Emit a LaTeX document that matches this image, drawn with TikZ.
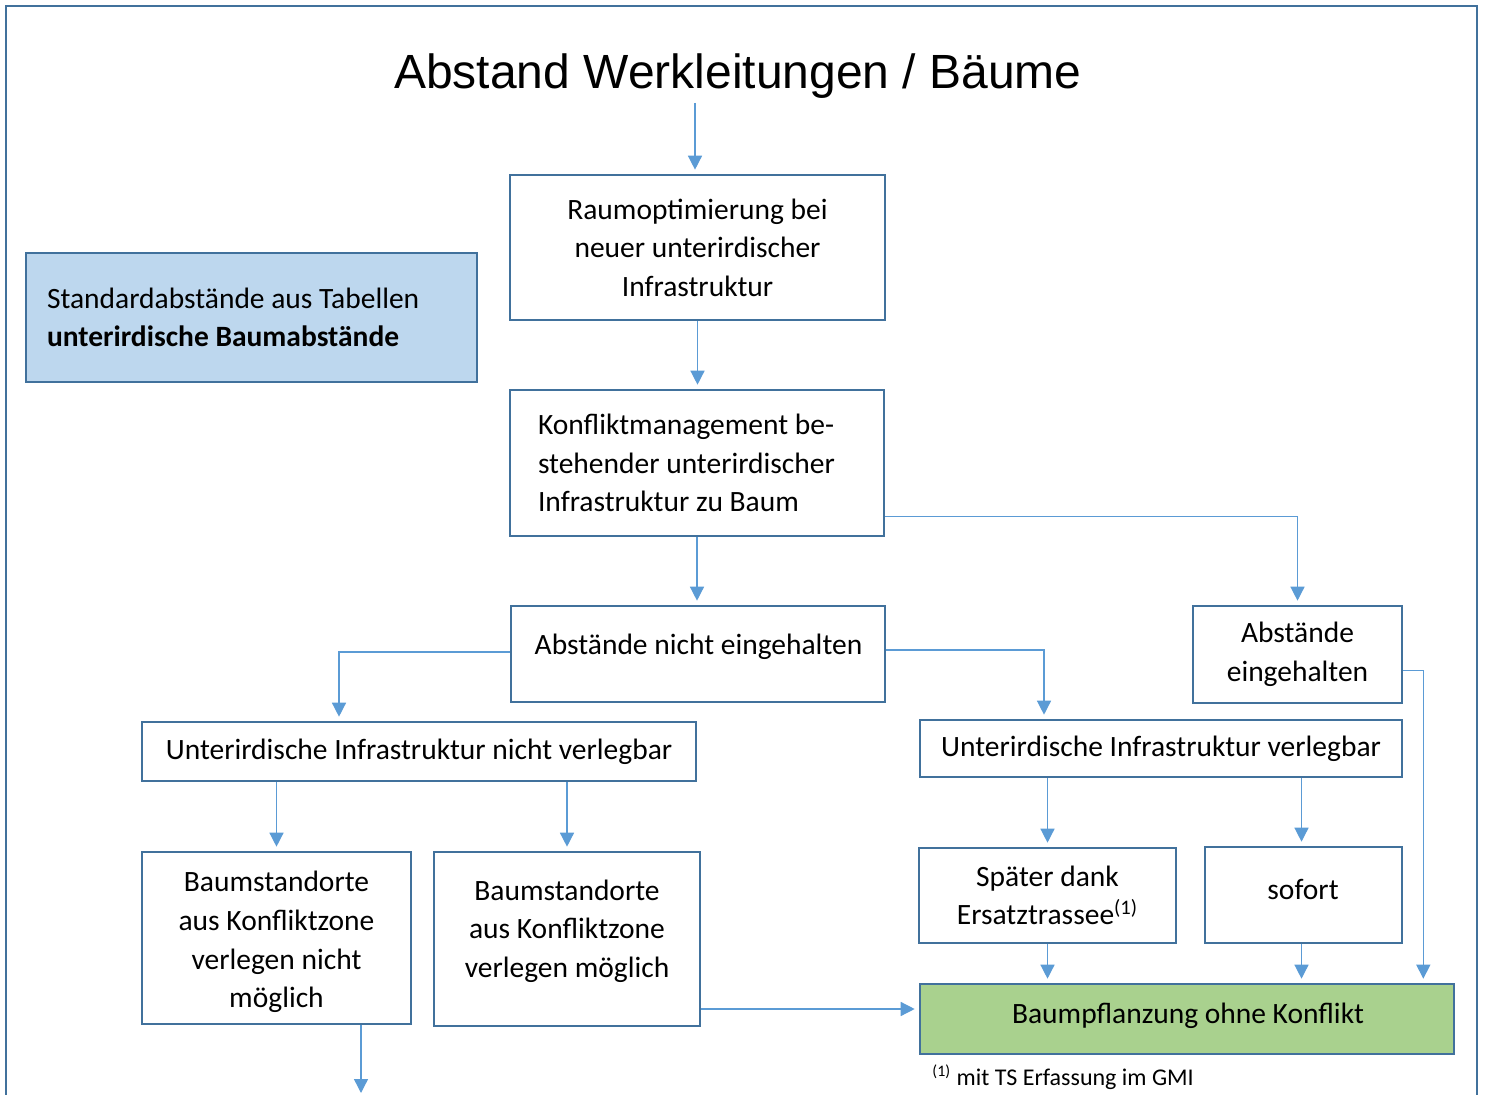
\documentclass[tikz,border=0pt]{standalone}
\usepackage{fontspec}
\setmainfont{Carlito}
\newfontfamily\titlefont{Liberation Sans}
\usetikzlibrary{arrows.meta,calc}
\definecolor{boxline}{HTML}{41719C}
\definecolor{arrowc}{HTML}{5B9BD5}
\definecolor{bluefill}{HTML}{BDD7EE}
\definecolor{greenfill}{HTML}{A9D18E}
\tikzset{
  box/.style={draw=boxline, line width=1.3pt, rectangle, inner ysep=2pt, inner xsep=3pt,
    font=\fontsize{14.75}{19.3}\selectfont, align=center},
  txt/.style={inner sep=0pt, font=\fontsize{14.75}{19.3}\selectfont, align=center},
  arr/.style={draw=arrowc, line width=0.7pt, -{Triangle[length=7pt,width=7pt]}, shorten >=2pt},
  frame/.style={draw=boxline, line width=1.2pt},
}
\begin{document}
\begin{tikzpicture}[x=0.5pt,y=-0.5pt]
\useasboundingbox (0,0) rectangle (1487,1095);
\draw[frame] (6,1110) -- (6,6) -- (1477,6) -- (1477,1110);

\node[inner sep=2pt, font=\titlefont\fontsize{24}{28}\selectfont] (title) at (738,76) {Abstand Werkleitungen / Bäume};

\node[box, minimum width=187.5pt, minimum height=72.5pt] (raum) at (697.5,247.5)
  {Raumoptimierung bei\\neuer unterirdischer\\Infrastruktur};

\node[box, fill=bluefill, minimum height=64.5pt, inner xsep=10.5pt, text width=204.5pt, align=flush left] (std) at (251.5,317.5)
  {Standardabstände aus Tabellen\\\textbf{unterirdische Baumabstände}};

\node[box, minimum height=73pt, inner xsep=14pt, text width=159pt, align=flush left] (konf) at (697,463)
  {Konfliktmanagement be-\\stehender unterirdischer\\Infrastruktur zu Baum};

\node[box, minimum width=187pt, minimum height=48pt] (ani) at (698,654) {};
\node[txt] (anitxt) at (698.5,647) {Abstände nicht eingehalten};

\node[box, minimum width=104.5pt, minimum height=48.5pt] (ae) at (1297.5,654.5)
  {Abstände\\eingehalten};

\node[box, minimum width=277pt, minimum height=29.5pt] (unv) at (419,751.5)
  {Unterirdische Infrastruktur nicht verlegbar};

\node[box, minimum width=241pt, minimum height=28.5pt] (uv) at (1161,748.5)
  {Unterirdische Infrastruktur verlegbar};

\node[box, minimum width=134.5pt, minimum height=86pt] (b1) at (276.5,938) {};
\node[txt] (b1txt) at (276.5,942) {Baumstandorte\\aus Konfliktzone\\verlegen nicht\\möglich};

\node[box, minimum width=133pt, minimum height=87pt] (b2) at (567,939) {};
\node[txt] (b2txt) at (567,931) {Baumstandorte\\aus Konfliktzone\\verlegen möglich};

\node[box, minimum width=128.5pt, minimum height=47.5pt] (sp) at (1047.5,895.5)
  {Später dank\\Ersatztrassee\textsuperscript{(1)}};

\node[box, minimum width=98.5pt, minimum height=48pt] (so) at (1303.5,895) {};
\node[txt] (sotxt) at (1303,889) {sofort};

\node[box, fill=greenfill, minimum width=267pt, minimum height=35pt] (bp) at (1187,1019) {};
\node[txt] (bptxt) at (1188,1016) {Baumpflanzung ohne Konflikt};

\node[inner sep=0pt, anchor=west, font=\fontsize{12}{14}\selectfont] (fn) at (932,1077)
  {\textsuperscript{(1)} mit TS Erfassung im GMI};

\coordinate (b1out) at (361,1097);

\draw[arr] ([xshift=-1.25pt]raum.north |- title.south) -- ([xshift=-1.25pt]raum.north);
\draw[arr] (raum.south) -- (raum.south |- konf.north);
\draw[arr] (konf.south) -- (konf.south |- ani.north);
\draw[arr] ([yshift=10.5pt]konf.south east) -| (ae.north);
\draw[arr] ([yshift=1pt]ani.west) -| ([xshift=-40pt]unv.north);
\draw[arr] ([yshift=2pt]ani.east) -| ([xshift=-58.5pt]uv.north);
\draw[arr] (b1.north |- unv.south) -- (b1.north);
\draw[arr] (b2.north |- unv.south) -- (b2.north);
\draw[arr] (sp.north |- uv.south) -- (sp.north);
\draw[arr] ([xshift=-1pt]so.north |- uv.south) -- ([xshift=-1pt]so.north);
\draw[arr] (sp.south) -- (sp.south |- bp.north);
\draw[arr] ([xshift=-1pt]so.south) -- ([xshift=-1pt]so.south |- bp.north);
\draw[arr] ([yshift=-8pt]ae.east) -| ([xshift=-16pt]bp.north east);
\draw[arr] ([yshift=-35pt]b2.east) -- ([yshift=-35pt]b2.east -| bp.west);
\draw[arr] ([xshift=42.25pt]b1.south) -- ([xshift=42.25pt]b1.south |- b1out);
\end{tikzpicture}
\end{document}
